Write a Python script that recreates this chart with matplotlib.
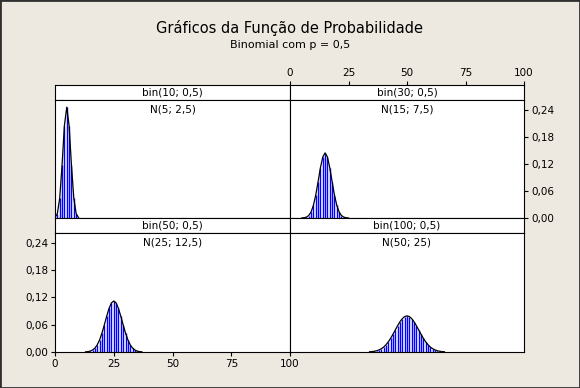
import matplotlib.pyplot as plt
from matplotlib.patches import Rectangle

# Probabilidades binomiais (p = 0,5)
k_10 = list(range(0, 11))
pmf_10 = [0.0010, 0.0098, 0.0439, 0.1172, 0.2051, 0.2461, 0.2051, 0.1172, 0.0439, 0.0098, 0.0010]

k_30 = list(range(5, 26))
pmf_30 = [0.0001, 0.0006, 0.0019, 0.0055, 0.0133, 0.0280, 0.0509, 0.0806, 0.1115, 0.1354, 0.1445,
          0.1354, 0.1115, 0.0806, 0.0509, 0.0280, 0.0133, 0.0055, 0.0019, 0.0006, 0.0001]

k_50 = list(range(13, 38))
pmf_50 = [0.0003, 0.0008, 0.0020, 0.0044, 0.0087, 0.0160, 0.0270, 0.0419, 0.0598, 0.0788, 0.0960, 0.1080, 0.1123,
          0.1080, 0.0960, 0.0788, 0.0598, 0.0419, 0.0270, 0.0160, 0.0087, 0.0044, 0.0020, 0.0008, 0.0003]

k_100 = list(range(34, 67))
pmf_100 = [0.0005, 0.0009, 0.0016, 0.0027, 0.0045, 0.0071, 0.0108, 0.0159, 0.0223, 0.0301, 0.0390, 0.0485,
           0.0580, 0.0666, 0.0735, 0.0780, 0.0796, 0.0780, 0.0735, 0.0666, 0.0580, 0.0485, 0.0390, 0.0301,
           0.0223, 0.0159, 0.0108, 0.0071, 0.0045, 0.0027, 0.0016, 0.0009, 0.0005]

strip_labels = ["bin(10; 0,5)", "bin(30; 0,5)", "bin(50; 0,5)", "bin(100; 0,5)"]
normal_labels = ["N(5; 2,5)", "N(15; 7,5)", "N(25; 12,5)", "N(50; 25)"]

x_ticks = [0, 25, 50, 75, 100]
x_ticklabels = ["0", "25", "50", "75", "100"]
y_ticks = [0.00, 0.06, 0.12, 0.18, 0.24]
y_ticklabels = ["0,00", "0,06", "0,12", "0,18", "0,24"]

W, H = 580, 388
bg = '#EEE9E0'


def box(x0, y0, x1, y1):
    # coordenadas em pixels (origem no topo) -> fracao da figura
    return [x0 / W, 1 - y1 / H, (x1 - x0) / W, (y1 - y0) / H]


fig = plt.figure(figsize=(5.8, 3.88), dpi=100, facecolor=bg)

fig.text(0.5, 1 - 28 / H, "Gráficos da Função de Probabilidade", ha='center', va='center', fontsize=10.5)
fig.text(0.5, 1 - 45 / H, "Binomial com p = 0,5", ha='center', va='center', fontsize=8)

cols = [(55, 290), (290, 524)]
rows = [(85, 100, 218), (218, 233, 352)]
data = [(k_10, pmf_10), (k_30, pmf_30), (k_50, pmf_50), (k_100, pmf_100)]

for i, (ks, ps) in enumerate(data):
    r, c = divmod(i, 2)
    x0, x1 = cols[c]
    s0, p0, p1 = rows[r]

    # faixa com o titulo do painel
    st = fig.add_axes(box(x0, s0, x1, p0))
    st.set_facecolor('white')
    st.set_xlim(0, 100)
    st.set_ylim(0, 1)
    st.set_yticks([])
    st.text(0.5, 0.5, strip_labels[i], transform=st.transAxes, ha='center', va='center', fontsize=7.5)
    for sp in st.spines.values():
        sp.set_linewidth(0.8)
    if i == 1:
        st.xaxis.tick_top()
        st.set_xticks(x_ticks)
        st.set_xticklabels(x_ticklabels, fontsize=7.5)
        st.tick_params(axis='x', direction='out', length=3, width=0.8, pad=2)
    else:
        st.set_xticks([])

    ax = fig.add_axes(box(x0, p0, x1, p1))
    ax.set_facecolor('white')
    ax.set_xlim(0, 100)
    ax.set_ylim(0, 0.262)
    ax.vlines(ks, 0, ps, color='#0000FF', linewidth=1.0)
    ax.plot(ks, ps, color='black', linewidth=0.9)
    ax.text(0.5, 0.92, normal_labels[i], transform=ax.transAxes, ha='center', va='center', fontsize=7.5)
    for sp in ax.spines.values():
        sp.set_linewidth(0.8)

    ax.set_xticks([])
    ax.set_yticks([])
    if i == 1:
        ax.yaxis.tick_right()
        ax.set_yticks(y_ticks)
        ax.set_yticklabels(y_ticklabels, fontsize=7.5)
        ax.tick_params(axis='y', direction='out', length=3, width=0.8, pad=2)
    if i == 2:
        ax.set_yticks(y_ticks)
        ax.set_yticklabels(y_ticklabels, fontsize=7.5)
        ax.set_xticks(x_ticks)
        ax.set_xticklabels(x_ticklabels, fontsize=7.5)
        ax.tick_params(direction='out', length=3, width=0.8, pad=2)

fig.patches.append(Rectangle((0, 0), 1, 1, transform=fig.transFigure, fill=False,
                             edgecolor='#303030', linewidth=2))

fig.savefig('out.png', dpi=100, facecolor=bg)
